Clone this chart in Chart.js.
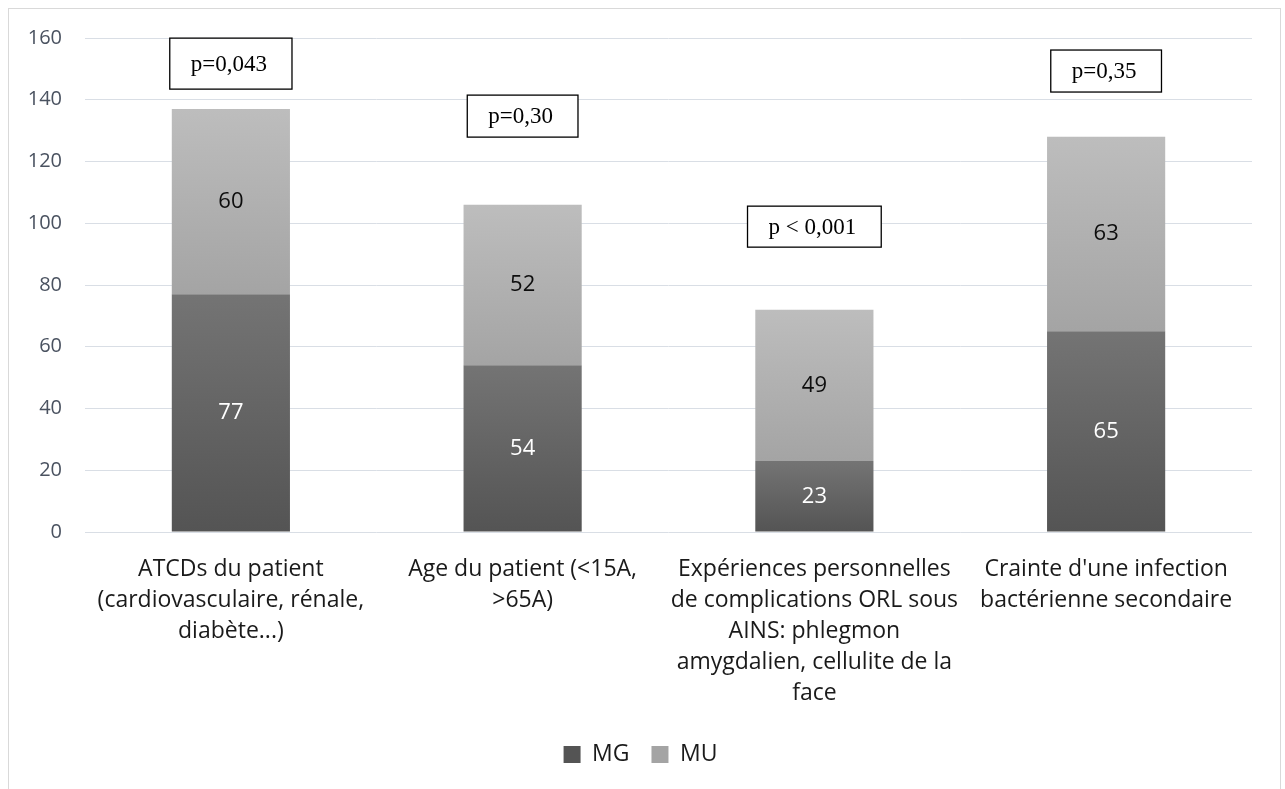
<!DOCTYPE html>
<html>
<head>
<meta charset="utf-8">
<script src="https://cdn.jsdelivr.net/npm/chart.js@4.4.0/dist/chart.umd.min.js"></script>
<style>
  html, body { margin: 0; padding: 0; background: #fff; overflow: hidden; }
  #cadre { position: absolute; left: 8px; top: 8px; width: 1271px; height: 800px; border: 1px solid #d9d9d9; }
  #zone { position: absolute; left: 9px; top: 9px; width: 1270px; height: 780px; }
</style>
</head>
<body>
<div id="cadre"></div>
<div id="zone"><canvas id="graphique"></canvas></div>
<script>
// Catégories (libellés de l'axe X, déjà coupés en lignes)
const categories = [
    ['ATCDs du patient', '(cardiovasculaire, rénale,', 'diabète...)'],
    ['Age du patient (<15A,', '>65A)'],
    ['Expériences personnelles', 'de complications ORL sous', 'AINS: phlegmon', 'amygdalien, cellulite de la', 'face'],
    ["Crainte d'une infection", 'bactérienne secondaire']
];

// Valeurs des séries
const valeursMG = [77, 54, 23, 65];
const valeursMU = [60, 52, 49, 63];

// Valeurs p affichées au-dessus des barres
const pValeurs = ['p=0,043', 'p=0,30', 'p < 0,001', 'p=0,35'];

// Graduations de l'axe Y
const ticksY = [0, 20, 40, 60, 80, 100, 120, 140, 160];

// Dégradé vertical par segment de barre
function degrade(couleurHaut, couleurBas, couleurLegende) {
    return function (context) {
        const chart = context.chart;
        if (!chart.chartArea || context.type !== 'data') return couleurLegende;
        const y = chart.scales.y;
        let bas = 0;
        for (let d = 0; d < context.datasetIndex; d++) {
            bas += chart.data.datasets[d].data[context.dataIndex];
        }
        const haut = bas + context.raw;
        const g = chart.ctx.createLinearGradient(0, y.getPixelForValue(haut), 0, y.getPixelForValue(bas));
        g.addColorStop(0, couleurHaut);
        g.addColorStop(1, couleurBas);
        return g;
    };
}

// Étiquettes de valeur au centre de chaque segment
const etiquettesValeurs = {
    id: 'etiquettesValeurs',
    afterDatasetsDraw(chart) {
        const ctx = chart.ctx;
        ctx.save();
        ctx.font = '22px "Open Sans"';
        ctx.textAlign = 'center';
        ctx.textBaseline = 'middle';
        chart.data.datasets.forEach((ds, d) => {
            const meta = chart.getDatasetMeta(d);
            ctx.fillStyle = d === 0 ? '#ffffff' : '#0d0d0d';
            meta.data.forEach((barre, i) => {
                ctx.fillText(ds.data[i], barre.x, (barre.y + barre.base) / 2);
            });
        });
        ctx.restore();
    }
};

// Cadres des valeurs p
const cadresP = {
    id: 'cadresP',
    afterDraw(chart, args, opts) {
        const ctx = chart.ctx;
        const x = chart.scales.x;
        const y = chart.scales.y;
        ctx.save();
        ctx.font = '23px "Liberation Serif"';
        ctx.textAlign = 'center';
        ctx.textBaseline = 'middle';
        pValeurs.forEach((texte, i) => {
            const cx = x.getPixelForValue(i);
            const cy = y.getPixelForValue(opts.centres[i]);
            const l = ctx.measureText(texte).width + 46;
            const h = opts.hauteurs[i];
            ctx.fillStyle = '#ffffff';
            ctx.fillRect(cx - l / 2, cy - h / 2, l, h);
            ctx.strokeStyle = '#000000';
            ctx.lineWidth = 1.3;
            ctx.strokeRect(cx - l / 2, cy - h / 2, l, h);
            ctx.fillStyle = '#000000';
            ctx.fillText(texte, cx - 2, cy + 1);
        });
        ctx.restore();
    }
};

const ctx = document.getElementById('graphique').getContext('2d');

const graphique = new Chart(ctx, {
    type: 'bar',
    data: {
        labels: categories,
        datasets: [{
            label: 'MG',
            data: valeursMG,
            backgroundColor: degrade('#747474', '#545454', '#626262')
        }, {
            label: 'MU',
            data: valeursMU,
            backgroundColor: degrade('#bdbdbd', '#a4a4a4', '#b2b2b2')
        }]
    },
    options: {
        responsive: true,
        maintainAspectRatio: false,
        animation: false,
        categoryPercentage: 1,
        barPercentage: 0.405,
        layout: {
            padding: { top: 29, right: 27, left: 20, bottom: 13 }
        },
        scales: {
            x: {
                stacked: true,
                grid: { display: false },
                border: { display: false },
                ticks: {
                    color: '#1a1a1a',
                    font: { family: 'Open Sans', size: 23, lineHeight: 1.35 },
                    padding: 14,
                    maxRotation: 0,
                    autoSkip: false
                },
                afterFit(scale) { scale.height = 189; }
            },
            y: {
                stacked: true,
                min: 0,
                max: 160,
                afterBuildTicks(scale) {
                    scale.ticks = ticksY.map(v => ({ value: v }));
                },
                grid: { color: '#d9dee5', lineWidth: 1, drawTicks: false },
                border: { display: false },
                ticks: {
                    color: '#4a5260',
                    font: { family: 'Open Sans', size: 20 },
                    padding: 23
                },
                afterFit(scale) {
                    scale.width = 56;
                    scale.paddingTop = 0;
                    scale.paddingBottom = 0;
                }
            }
        },
        plugins: {
            legend: {
                position: 'bottom',
                labels: {
                    boxWidth: 17,
                    boxHeight: 17,
                    padding: 22,
                    color: '#1a1a1a',
                    font: { family: 'Open Sans', size: 23 }
                }
            },
            tooltip: { enabled: false },
            cadresP: {
                centres: [151.7, 134.7, 98.9, 149.3],
                hauteurs: [51, 42, 41, 42]
            }
        }
    },
    plugins: [etiquettesValeurs, cadresP]
});
</script>
</body>
</html>
